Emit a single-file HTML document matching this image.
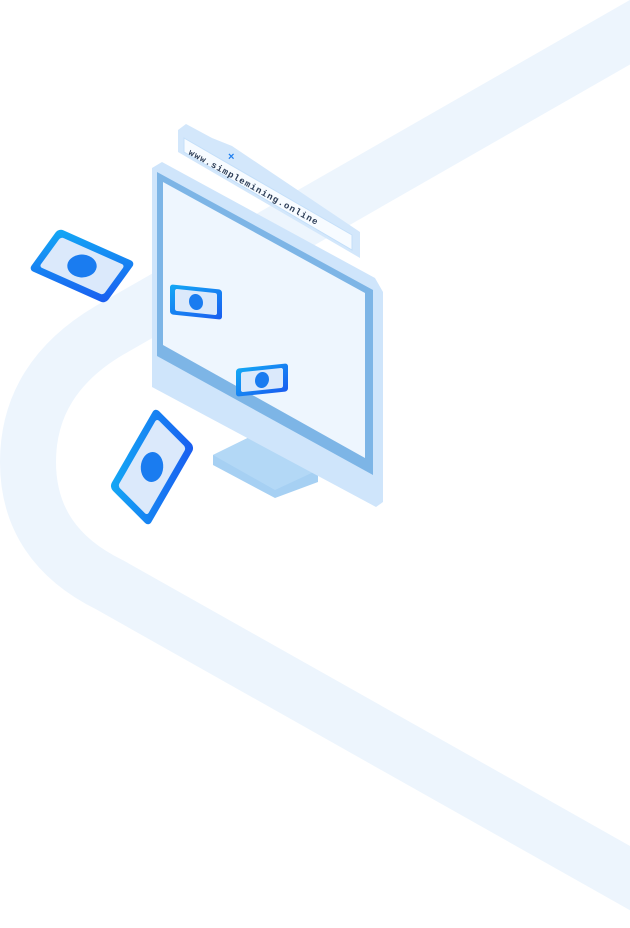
<!DOCTYPE html>
<html><head><style>html,body{margin:0;padding:0;background:#fff;width:630px;height:928px;overflow:hidden}</style></head>
<body>
<svg width="630" height="928" viewBox="0 0 630 928" xmlns="http://www.w3.org/2000/svg">
<defs>
<linearGradient id="g" x1="0" y1="0" x2="1" y2="1"><stop offset="0" stop-color="#13a9f5"/><stop offset="1" stop-color="#1a5cf0"/></linearGradient>
</defs>
<path d="M660,15 L110,330 Q28,378 28,462 Q28,545 110,585 L660,895" fill="none" stroke="#edf5fd" stroke-width="56"/>
<!-- browser bar -->
<polygon points="186,124 212,138 232,146 360,232 360,258 178,152 178,130" fill="#d3e7fb"/>
<polygon points="184,138 352,235 352,250 184,152" fill="#f7fbff" stroke="#c4dff9" stroke-width="1"/>
<text x="0" y="0" transform="translate(188,154) rotate(29)" font-family="Liberation Mono, monospace" font-size="9" font-weight="bold" fill="#2a3b55" letter-spacing="1">www.simplemining.online</text>
<text x="228" y="160" font-family="Liberation Sans, sans-serif" font-size="11" font-weight="bold" fill="#1e7ef0">×</text>
<!-- stand -->
<polygon points="213,455 268,428 318,470 318,482 275,498 213,465" fill="#a6d0f3"/>
<polygon points="213,455 268,428 318,470 275,490" fill="#b3d8f6"/>
<!-- monitor -->
<polygon points="152,168 162,162 375,278 383,292 383,502 376,507 152,387" fill="#cfe5fb"/>
<polygon points="157,172 373,290 373,475 157,356" fill="#7db5e6"/>
<polygon points="163,182 365,293 365,458 163,345" fill="#eef6fe"/>
<!-- bills on screen -->
<g transform="translate(196,302) skewY(6)">
<rect x="-26" y="-15" width="52" height="30" rx="3" fill="url(#g)"/>
<rect x="-21" y="-11" width="42" height="22" rx="2" fill="#dbe9fb"/>
<ellipse cx="0" cy="0" rx="7" ry="8" fill="#1a7cf0"/></g>
<g transform="translate(262,380) skewY(-6)">
<rect x="-26" y="-14" width="52" height="28" rx="3" fill="url(#g)"/>
<rect x="-21" y="-10" width="42" height="20" rx="2" fill="#dbe9fb"/>
<ellipse cx="0" cy="0" rx="7" ry="8" fill="#1a7cf0"/></g>
<!-- floating bills -->
<g transform="translate(82,266) rotate(24) skewX(-12)">
<rect x="-42" y="-25" width="84" height="50" rx="5" fill="url(#g)"/>
<rect x="-35" y="-18" width="70" height="36" rx="3" fill="#dbe9fb"/>
<ellipse cx="0" cy="0" rx="14" ry="12" fill="#1a7cf0"/></g>
<g transform="translate(152,467) rotate(-60) skewX(-15)">
<rect x="-46" y="-27" width="92" height="54" rx="5" fill="url(#g)"/>
<rect x="-39" y="-20" width="78" height="40" rx="3" fill="#dbe9fb"/>
<ellipse cx="0" cy="0" rx="14" ry="12" fill="#1a7cf0"/></g>
</svg>
</body></html>
